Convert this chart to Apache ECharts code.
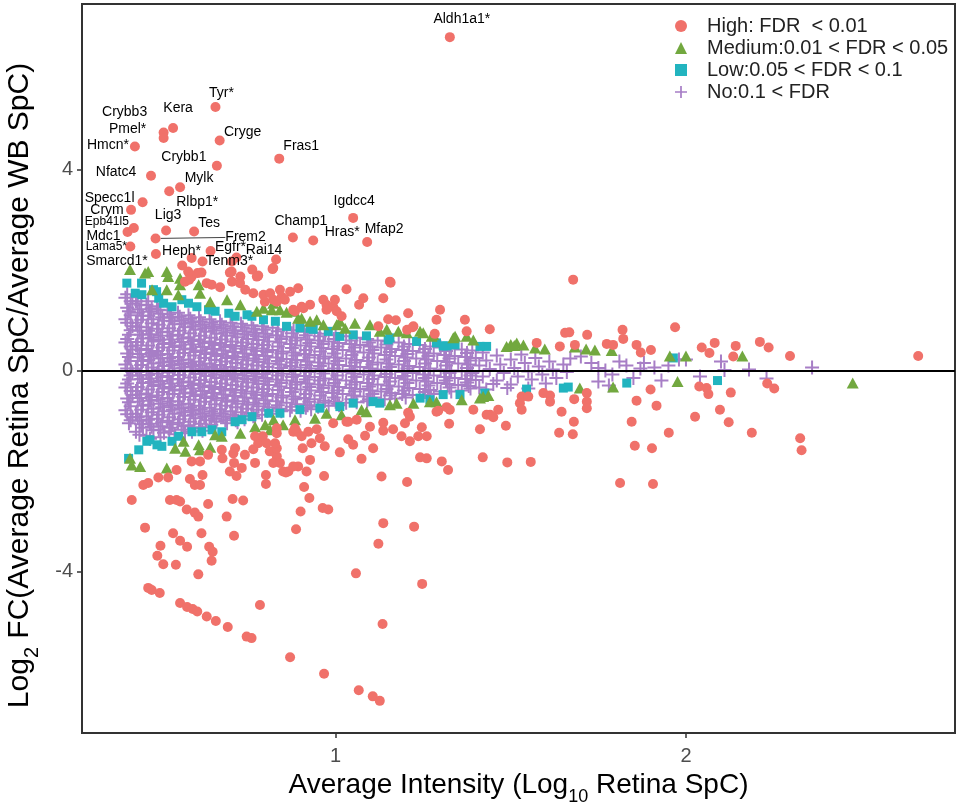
<!DOCTYPE html>
<html><head><meta charset="utf-8">
<script src="https://cdn.jsdelivr.net/npm/echarts@6/dist/echarts.min.js"></script>
<style>html,body{margin:0;padding:0;background:#fff}#c{width:956px;height:808px}</style>
</head><body><div id="c"></div>
<script>
// ---------- DATA ----------
const xTicks = [1, 2];
const yTicks = [-4, 0, 4];
const seriesNames = ['High: FDR  < 0.01', 'Medium:0.01 < FDR < 0.05', 'Low:0.05 < FDR < 0.1', 'No:0.1 < FDR'];

// labelled High points: [intensity, log2FC, gene]
const highLabeled = [
[1.326,6.64,'Aldh1a1*'],[0.657,5.25,'Tyr*'],[0.536,4.83,'Kera'],[0.509,4.74,'Crybb3'],[0.509,4.63,'Pmel*'],
[0.427,4.46,'Hmcn*'],[0.669,4.58,'Cryge'],[0.839,4.22,'Fras1'],[0.661,4.08,'Crybb1'],[0.473,3.88,'Nfatc4'],
[0.556,3.65,'Mylk'],[0.525,3.57,'Rlbp1*'],[0.449,3.35,'Specc1l'],[0.416,3.20,'Crym'],[1.050,3.04,'Igdcc4'],
[0.424,2.84,'Epb41l5'],[0.516,2.79,'Lig3'],[0.596,2.77,'Tes'],[0.406,2.76,'Mdc1'],[0.486,2.63,'Frem2'],
[0.878,2.65,'Champ1'],[0.936,2.59,'Hras*'],[1.090,2.56,'Mfap2'],[0.414,2.47,'Lama5*'],[0.643,2.38,'Heph*'],
[0.717,2.25,'Egfr*'],[0.830,2.21,'Rai14'],[0.620,2.17,'Tenm3*'],[0.487,2.32,'Smarcd1*']
];

const highPts = [
[0.562,2.09],[0.589,2.24],[0.617,1.95],[0.698,1.95],[0.762,2.01],[0.779,1.89],[1.155,1.77],[0.822,2.04],[0.579,1.97],[0.589,1.87],[0.570,1.77],[0.632,1.74],[0.646,1.71],[0.670,1.66],[0.703,1.97],[0.727,1.74],[0.775,1.87],[0.765,1.54],[0.798,1.37],[0.822,1.41],[0.841,1.61],[0.846,1.47],[0.870,1.57],[0.893,1.64],[0.879,1.21],[0.903,1.27],[0.927,1.31],[0.965,1.41],[0.974,1.31],[0.993,1.27],[1.003,1.18],[1.031,1.62],[1.079,1.44],[1.136,1.44],[1.157,1.75],[1.207,1.14],[1.222,0.88],[1.288,1.01],[1.298,1.21],[1.369,1.01],[1.374,0.78],[1.440,0.82],[0.832,1.37],[0.855,1.41],[0.884,1.18],[0.908,1.24],[0.998,1.41],[0.974,1.21],[1.017,1.08],[1.067,1.31],[1.150,1.02],[1.172,1.00],[1.122,0.88],[1.204,0.81],[1.220,0.86],[1.283,0.73],[0.820,2.02],[0.582,1.81],[0.606,1.94],[0.704,1.77],[0.728,1.87],[0.742,1.61],[0.794,1.51],[0.813,1.54],[0.704,2.17],
[1.678,1.81],[1.655,0.75],[1.667,0.76],[1.718,0.71],[1.574,0.55],[1.640,0.48],[1.683,0.51],[1.774,0.53],[1.792,0.51],[1.819,0.81],[1.821,0.63],[1.859,0.51],[1.871,0.36],[1.900,0.41],[1.969,0.86],[2.045,0.46],[2.067,0.35],[2.082,0.55],[2.142,0.49],[2.135,0.28],[2.211,0.57],[2.236,0.46],[2.297,0.29],[2.663,0.29],
[1.717,-0.45],[1.681,-0.57],[1.717,-0.62],[1.717,-0.75],[1.899,-0.38],[1.859,-0.60],[1.916,-0.70],[1.845,-1.02],[2.038,-0.32],[2.059,-0.35],[2.064,-0.47],[2.097,-0.78],[2.026,-0.92],[2.122,-1.03],[2.128,-0.44],[2.232,-0.26],[2.252,-0.36],[1.645,-0.82],[1.680,-1.02],[1.612,-0.50],[1.612,-0.62],[1.593,-0.45],[1.531,-0.52],[1.526,-0.65],[1.531,-0.78],[1.550,-0.52],[1.464,-0.78],[1.441,-0.88],[1.450,-0.93],[1.486,-1.10],[1.412,-1.17],[1.638,-1.24],[1.677,-1.27],[1.951,-1.24],[2.188,-1.24],[2.326,-1.35],[2.330,-1.59],[1.854,-1.50],[1.903,-1.55],[1.420,-1.73],[1.490,-1.83],[1.557,-1.82],[1.812,-2.24],[1.906,-2.26],
[1.207,-0.84],[1.293,-0.80],[1.317,-0.73],[1.326,-0.78],[1.393,-0.78],[1.324,-1.06],[1.303,-1.81],[1.321,-1.98],[1.241,-1.73],[1.260,-1.75],[1.246,-1.13],[1.260,-1.31],[1.236,-1.31],[1.212,-1.41],[1.188,-1.31],[1.198,-1.05],[1.164,-1.17],[1.136,-1.04],[1.136,-1.20],[1.098,-1.12],[1.084,-1.30],[1.107,-1.55],[1.074,-1.76],[1.050,-1.48],[1.036,-1.37],[1.060,-0.98],[1.012,-1.63],[0.993,-1.05],[0.969,-1.51],[0.955,-1.35],[0.946,-1.17],[0.931,-1.45],[0.927,-1.78],[0.917,-2.01],[0.906,-1.55],[0.903,-1.31],[0.889,-1.22],[0.922,-1.22],[0.893,-1.91],[0.865,-2.01],[0.850,-2.01],[0.967,-2.10],[0.910,-2.32],[0.925,-2.54],[0.900,-2.81],[0.887,-3.16],[0.963,-2.74],[0.979,-2.77],[1.131,-2.11],[1.204,-2.22],[1.136,-3.04],[1.224,-3.11],[1.122,-3.45],[1.058,-4.04],[1.247,-4.25],[1.134,-5.05],[0.784,-4.67],[0.870,-5.71],[0.967,-6.04],[1.066,-6.37],[1.106,-6.49],[1.126,-6.58],
[0.418,-2.58],[0.456,-3.13],[0.451,-2.28],[0.465,-2.24],[0.494,-2.13],[0.522,-2.13],[0.546,-1.98],[0.584,-2.16],[0.598,-2.28],[0.613,-2.28],[0.620,-2.08],[0.589,-1.81],[0.613,-1.81],[0.636,-1.68],[0.527,-2.58],[0.546,-2.58],[0.556,-2.61],[0.575,-2.77],[0.598,-2.83],[0.608,-2.91],[0.636,-2.66],[0.536,-3.24],[0.556,-3.39],[0.576,-3.51],[0.500,-3.49],[0.491,-3.69],[0.508,-3.86],[0.544,-3.87],[0.617,-3.24],[0.639,-3.51],[0.649,-3.61],[0.646,-3.79],[0.608,-4.06],[0.465,-4.33],[0.475,-4.37],[0.498,-4.43],[0.556,-4.63],[0.576,-4.71],[0.592,-4.75],[0.605,-4.80],[0.632,-4.90],[0.658,-4.99],[0.692,-5.11],[0.746,-5.30],[0.760,-5.33],[0.675,-1.58],[0.677,-1.75],[0.708,-1.65],[0.713,-1.55],[0.741,-1.68],[0.710,-1.84],[0.698,-2.01],[0.717,-2.10],[0.732,-1.94],[0.770,-1.84],[0.765,-1.57],[0.779,-1.45],[0.770,-1.31],[0.792,-1.31],[0.803,-1.45],[0.812,-1.61],[0.832,-1.71],[0.822,-1.84],[0.841,-1.84],[0.832,-1.55],[0.801,-2.08],[0.801,-2.26],[0.858,-2.03],[0.879,-1.91],[0.706,-2.56],[0.736,-2.59],[0.689,-2.91],[0.710,-3.29],[0.879,-1.22],[1.031,-1.02],[1.212,-0.92],[1.288,-0.82],[1.431,-0.88],[1.036,-1.02],[0.884,-1.15],[0.832,-1.15],[0.827,-1.45],[0.832,-1.25]
];

const mediumPts = [
[0.413,2.01],[0.456,1.94],[0.465,1.97],[0.518,1.97],[0.522,1.87],[0.476,1.61],[0.518,1.61],[0.556,1.71],[0.551,1.51],[0.609,1.71],[0.613,1.54],[0.642,1.37],[0.690,1.41],[0.728,1.31],[0.775,1.18],[0.794,1.24],[0.818,1.21],[0.556,1.84],[0.841,1.21],[0.860,1.16],[0.893,1.04],[1.012,0.98],[1.055,0.94],[1.098,0.91],[1.203,0.75],[1.241,0.78],[1.279,0.71],[1.336,0.65],[1.374,0.68],[1.488,0.48],[1.517,0.55],[0.822,1.34],[0.879,1.18],[0.903,1.04],[0.927,0.98],[0.946,1.01],[0.965,0.91],[1.003,0.91],[1.027,0.84],[1.126,0.78],[1.146,0.82],[1.179,0.78],[1.250,0.75],[1.274,0.68],[1.341,0.68],[1.393,0.61],[1.536,0.51],[1.569,0.45],[1.597,0.43],[1.683,0.47],[1.715,0.43],[1.740,0.41],[1.788,0.40],[1.954,0.29],[2.000,0.29],[2.161,0.29],[1.500,0.52],[1.510,0.50],
[1.697,-0.35],[1.792,-0.33],[1.976,-0.22],[2.476,-0.25],[1.421,-0.52],[1.436,-0.50],[0.413,-1.75],[0.418,-1.88],[0.442,-1.91],[0.518,-1.94],[0.542,-1.55],[0.566,-1.41],[0.571,-1.61],[0.609,-1.48],[0.613,-1.58],[0.642,-1.53],[0.656,-1.28],[0.675,-1.31],[0.728,-1.25],[0.770,-1.12],[0.799,-1.08],[0.813,-1.18],[0.823,-0.98],[0.850,-1.08],[0.884,-0.98],[0.941,-0.95],[0.974,-0.85],[1.017,-0.88],[1.074,-0.78],[1.088,-0.82],[1.155,-0.68],[1.174,-0.65],[1.222,-0.65],[1.269,-0.62],[1.288,-0.62],[1.360,-0.58],[1.412,-0.55]
];

const lowPts = [
[0.404,1.74],[0.428,1.54],[0.447,1.51],[0.480,1.61],[0.495,1.44],[0.509,1.34],[0.533,1.27],[0.561,1.41],[0.580,1.34],[0.604,1.27],[0.637,1.21],[0.656,1.18],[0.695,1.14],[0.713,1.08],[0.747,1.11],[0.761,1.08],[0.794,1.01],[0.828,0.98],[0.446,1.74],[0.489,1.57],[0.860,0.88],[0.927,0.84],[0.979,0.78],[1.050,0.71],[1.155,0.65],[1.231,0.58],[1.317,0.49],[1.431,0.48],[0.898,0.85],[0.936,0.82],[1.012,0.68],[1.088,0.69],[1.150,0.61],[1.288,0.55],[1.307,0.49],[1.341,0.51],[1.412,0.48],[1.964,0.25],
[1.831,-0.25],[2.090,-0.20],[1.650,-0.35],[1.664,-0.33],[1.545,-0.37],[1.426,-0.45],[0.438,-1.58],[0.461,-1.41],[0.490,-1.48],[0.504,-1.51],[0.533,-1.41],[0.552,-1.31],[0.590,-1.22],[0.618,-1.22],[0.647,-1.18],[0.675,-1.22],[0.713,-1.02],[0.733,-0.98],[0.761,-0.92],[0.809,-0.85],[0.409,-1.75],[0.470,-1.38],[0.841,-0.85],[0.898,-0.78],[0.955,-0.75],[1.012,-0.72],[1.126,-0.65],[1.269,-0.58],[1.050,-0.65],[1.107,-0.62],[1.241,-0.55],[1.307,-0.48],[1.355,-0.48]
];

const noPts = [
[0.40,1.45],[0.42,1.33],[0.41,1.18],[0.40,1.02],[0.42,0.88],[0.41,0.71],[0.40,0.56],[0.42,0.42],[0.41,0.27],[0.40,0.12],[0.42,-0.03],[0.41,-0.18],[0.40,-0.34],[0.42,-0.49],[0.41,-0.63],[0.40,-0.79],[0.42,-0.93],[0.41,-1.05],
[0.43,1.38],[0.44,1.22],[0.45,1.09],[0.43,0.95],[0.44,0.79],[0.45,0.64],[0.43,0.5],[0.44,0.33],[0.45,0.19],[0.43,0.04],[0.44,-0.1],[0.45,-0.25],[0.43,-0.41],[0.44,-0.55],[0.45,-0.7],[0.43,-0.86],[0.44,-1.0],[0.45,-1.14],[0.43,-1.22],
[0.46,1.31],[0.47,1.17],[0.48,1.02],[0.46,0.86],[0.47,0.72],[0.48,0.58],[0.46,0.43],[0.47,0.28],[0.48,0.14],[0.46,-0.02],[0.47,-0.16],[0.48,-0.31],[0.46,-0.46],[0.47,-0.6],[0.48,-0.76],[0.46,-0.91],[0.47,-1.06],[0.48,-1.19],[0.46,-1.3],
[0.49,1.28],[0.5,1.13],[0.51,0.99],[0.49,0.83],[0.5,0.69],[0.51,0.53],[0.49,0.39],[0.5,0.24],[0.51,0.09],[0.49,-0.06],[0.5,-0.21],[0.51,-0.36],[0.49,-0.5],[0.5,-0.66],[0.51,-0.81],[0.49,-0.96],[0.5,-1.11],[0.51,-1.24],
[0.52,1.2],[0.53,1.05],[0.54,0.92],[0.52,0.77],[0.53,0.62],[0.54,0.47],[0.52,0.33],[0.53,0.18],[0.54,0.04],[0.52,-0.11],[0.53,-0.26],[0.54,-0.4],[0.52,-0.55],[0.53,-0.7],[0.54,-0.86],[0.52,-1.0],[0.53,-1.14],[0.54,-1.27],
[0.55,1.15],[0.56,1.0],[0.57,0.86],[0.55,0.71],[0.56,0.57],[0.57,0.42],[0.55,0.27],[0.56,0.13],[0.57,-0.02],[0.55,-0.17],[0.56,-0.31],[0.57,-0.46],[0.55,-0.61],[0.56,-0.75],[0.57,-0.9],[0.55,-1.04],[0.56,-1.18],[0.57,-1.25],
[0.58,1.1],[0.59,0.96],[0.6,0.81],[0.58,0.66],[0.59,0.52],[0.6,0.37],[0.58,0.22],[0.59,0.08],[0.6,-0.07],[0.58,-0.22],[0.59,-0.36],[0.6,-0.51],[0.58,-0.66],[0.59,-0.8],[0.6,-0.95],[0.58,-1.09],[0.59,-1.22],
[0.61,1.06],[0.62,0.91],[0.63,0.77],[0.61,0.62],[0.62,0.47],[0.63,0.33],[0.61,0.18],[0.62,0.03],[0.63,-0.11],[0.61,-0.26],[0.62,-0.41],[0.63,-0.55],[0.61,-0.7],[0.62,-0.85],[0.63,-0.99],[0.61,-1.13],[0.62,-1.2],
[0.64,1.02],[0.65,0.87],[0.66,0.73],[0.64,0.58],[0.65,0.43],[0.66,0.29],[0.64,0.14],[0.65,-0.01],[0.66,-0.15],[0.64,-0.3],[0.65,-0.45],[0.66,-0.59],[0.64,-0.74],[0.65,-0.89],[0.66,-1.02],[0.64,-1.13],
[0.67,0.98],[0.68,0.84],[0.69,0.69],[0.67,0.55],[0.68,0.4],[0.69,0.25],[0.67,0.11],[0.68,-0.04],[0.69,-0.18],[0.67,-0.33],[0.68,-0.48],[0.69,-0.62],[0.67,-0.77],[0.68,-0.92],[0.69,-1.05],
[0.7,0.95],[0.71,0.8],[0.72,0.66],[0.7,0.51],[0.71,0.37],[0.72,0.22],[0.7,0.07],[0.71,-0.07],[0.72,-0.22],[0.7,-0.37],[0.71,-0.51],[0.72,-0.66],[0.7,-0.81],[0.71,-0.95],[0.72,-1.03],
[0.73,0.93],[0.74,0.78],[0.75,0.63],[0.73,0.49],[0.74,0.34],[0.75,0.2],[0.73,0.05],[0.74,-0.1],[0.75,-0.24],[0.73,-0.39],[0.74,-0.54],[0.75,-0.68],[0.73,-0.83],[0.74,-0.97],
[0.76,0.9],[0.77,0.75],[0.78,0.61],[0.76,0.46],[0.77,0.31],[0.78,0.17],[0.76,0.02],[0.77,-0.12],[0.78,-0.27],[0.76,-0.42],[0.77,-0.56],[0.78,-0.71],[0.76,-0.85],[0.77,-0.95],
[0.79,0.88],[0.8,0.73],[0.81,0.58],[0.79,0.44],[0.8,0.29],[0.81,0.14],[0.79,0.0],[0.8,-0.15],[0.81,-0.29],[0.79,-0.44],[0.8,-0.59],[0.81,-0.73],[0.79,-0.88],
[0.82,0.85],[0.83,0.7],[0.84,0.56],[0.82,0.41],[0.83,0.26],[0.84,0.12],[0.82,-0.03],[0.83,-0.18],[0.84,-0.32],[0.82,-0.47],[0.83,-0.61],[0.84,-0.76],[0.82,-0.86],
[0.85,0.82],[0.86,0.67],[0.87,0.53],[0.85,0.38],[0.86,0.23],[0.87,0.09],[0.85,-0.06],[0.86,-0.2],[0.87,-0.35],[0.85,-0.5],[0.86,-0.64],[0.87,-0.79],
[0.88,0.8],[0.89,0.65],[0.9,0.5],[0.88,0.36],[0.89,0.21],[0.9,0.06],[0.88,-0.08],[0.89,-0.23],[0.9,-0.38],[0.88,-0.52],[0.89,-0.67],[0.9,-0.8],
[0.91,0.77],[0.92,0.62],[0.93,0.48],[0.91,0.33],[0.92,0.18],[0.93,0.04],[0.91,-0.11],[0.92,-0.26],[0.93,-0.4],[0.91,-0.55],[0.92,-0.69],[0.93,-0.77],
[0.94,0.75],[0.95,0.6],[0.96,0.45],[0.94,0.31],[0.95,0.16],[0.96,0.01],[0.94,-0.13],[0.95,-0.28],[0.96,-0.43],[0.94,-0.57],[0.95,-0.72],
[0.97,0.73],[0.98,0.58],[0.99,0.43],[0.97,0.28],[0.98,0.14],[0.99,-0.01],[0.97,-0.16],[0.98,-0.3],[0.99,-0.45],[0.97,-0.6],[0.98,-0.7],
[1.0,0.7],[1.01,0.55],[1.02,0.41],[1.0,0.26],[1.01,0.11],[1.02,-0.03],[1.0,-0.18],[1.01,-0.33],[1.02,-0.47],[1.0,-0.62],[1.01,-0.69],
[1.03,0.68],[1.04,0.53],[1.05,0.38],[1.03,0.24],[1.04,0.09],[1.05,-0.06],[1.03,-0.2],[1.04,-0.35],[1.05,-0.5],[1.03,-0.64],
[1.06,0.65],[1.07,0.51],[1.08,0.36],[1.06,0.21],[1.07,0.07],[1.08,-0.08],[1.06,-0.23],[1.07,-0.37],[1.08,-0.52],[1.06,-0.63],
[1.09,0.63],[1.1,0.48],[1.11,0.34],[1.09,0.19],[1.1,0.04],[1.11,-0.1],[1.09,-0.25],[1.1,-0.4],[1.11,-0.54],[1.09,-0.61],
[1.12,0.6],[1.13,0.46],[1.14,0.31],[1.12,0.16],[1.13,0.02],[1.14,-0.13],[1.12,-0.28],[1.13,-0.42],[1.14,-0.57],
[1.15,0.58],[1.16,0.43],[1.17,0.29],[1.15,0.14],[1.16,-0.01],[1.17,-0.15],[1.15,-0.3],[1.16,-0.45],[1.17,-0.56],
[1.18,0.56],[1.19,0.41],[1.2,0.26],[1.18,0.12],[1.19,-0.03],[1.2,-0.18],[1.18,-0.32],[1.19,-0.47],[1.2,-0.54],
[1.21,0.53],[1.22,0.39],[1.23,0.24],[1.21,0.09],[1.22,-0.05],[1.23,-0.2],[1.21,-0.35],[1.22,-0.49],
[1.24,0.51],[1.25,0.36],[1.26,0.22],[1.24,0.07],[1.25,-0.08],[1.26,-0.22],[1.24,-0.37],[1.25,-0.49],
[1.27,0.48],[1.28,0.34],[1.29,0.19],[1.27,0.04],[1.28,-0.1],[1.29,-0.25],[1.27,-0.39],[1.28,-0.47],
[1.3,0.46],[1.31,0.31],[1.32,0.17],[1.3,0.02],[1.31,-0.13],[1.32,-0.27],[1.3,-0.42],
[1.33,0.44],[1.34,0.29],[1.35,0.14],[1.33,0.0],[1.34,-0.15],[1.35,-0.29],[1.33,-0.42],
[1.36,0.42],[1.37,0.27],[1.38,0.12],[1.36,-0.02],[1.37,-0.17],[1.38,-0.31],[1.36,-0.4],
[1.39,0.4],[1.4,0.25],[1.41,0.1],[1.39,-0.05],[1.4,-0.19],[1.41,-0.34],
[1.42,0.36],[1.43,0.2],[1.44,0.03],[1.42,-0.12],[1.45,-0.27],[1.43,-0.38],
[1.46,0.3],[1.47,0.12],[1.48,-0.05],[1.46,-0.2],[1.49,-0.35],[1.5,0.22],[1.51,0.05],[1.52,-0.12],[1.5,-0.28],[1.53,0.32],[1.54,0.15],[1.55,-0.02],[1.56,-0.18],[1.55,-0.36],[1.57,0.25],[1.58,0.08],[1.59,-0.08],[1.6,-0.26],[1.61,0.18],[1.62,0.02],[1.63,-0.15],[1.65,0.12],[1.66,-0.03],[1.67,0.24],[1.7,0.28],[1.73,0.15],[1.75,0.05],[1.77,0.0],[1.79,-0.08],[1.75,-0.22],[1.78,-0.3],[1.81,0.18],[1.83,0.1],[1.85,-0.15],[1.87,0.04],[1.88,0.15],[1.91,0.06],[1.93,-0.2],[1.95,0.1],[1.98,0.22],[2.0,0.22],[2.04,-0.12],[2.1,0.18],[2.11,0.01],[2.18,0.02],[2.23,-0.16],[2.36,0.06],
[0.405,1.52],[0.415,1.38],[0.405,1.25],[0.415,1.1],[0.405,0.95],[0.415,0.8],[0.405,0.63],[0.415,0.48],[0.405,0.34],[0.415,0.19],[0.405,0.04],[0.415,-0.1],[0.405,-0.26],[0.415,-0.41],[0.405,-0.56],[0.415,-0.71],[0.405,-0.87],[0.415,-0.99],
[0.435,1.46],[0.445,1.3],[0.435,1.15],[0.445,1.01],[0.435,0.87],[0.445,0.71],[0.435,0.57],[0.445,0.41],[0.435,0.26],[0.445,0.11],[0.435,-0.03],[0.445,-0.17],[0.435,-0.33],[0.445,-0.48],[0.435,-0.62],[0.445,-0.78],[0.435,-0.93],[0.445,-1.07],[0.44,-1.28],
[0.465,1.38],[0.475,1.24],[0.465,1.09],[0.475,0.94],[0.465,0.79],[0.475,0.65],[0.465,0.5],[0.475,0.35],[0.465,0.21],[0.475,0.06],[0.465,-0.09],[0.475,-0.23],[0.465,-0.38],[0.475,-0.53],[0.465,-0.68],[0.475,-0.83],[0.465,-0.98],[0.475,-1.12],[0.47,-1.36],
[0.495,1.21],[0.505,1.06],[0.495,0.91],[0.505,0.76],[0.495,0.61],[0.505,0.46],[0.495,0.31],[0.505,0.16],[0.495,0.02],[0.505,-0.13],[0.495,-0.28],[0.505,-0.43],[0.495,-0.58],[0.505,-0.73],[0.495,-0.88],[0.505,-1.03],[0.495,-1.18],[0.5,-1.33],
[0.525,1.12],[0.535,0.98],[0.525,0.84],[0.535,0.69],[0.525,0.55],[0.535,0.4],[0.525,0.25],[0.535,0.11],[0.525,-0.04],[0.535,-0.18],[0.525,-0.33],[0.535,-0.47],[0.525,-0.62],[0.535,-0.78],[0.525,-0.93],[0.535,-1.07],[0.525,-1.21],
[0.555,1.07],[0.565,0.93],[0.555,0.79],[0.565,0.64],[0.555,0.5],[0.565,0.35],[0.555,0.2],[0.565,0.06],[0.555,-0.09],[0.565,-0.24],[0.555,-0.38],[0.565,-0.53],[0.555,-0.68],[0.565,-0.83],[0.555,-0.97],[0.565,-1.11],
[0.585,1.03],[0.595,0.88],[0.585,0.74],[0.595,0.59],[0.585,0.44],[0.595,0.3],[0.585,0.15],[0.595,0.0],[0.585,-0.14],[0.595,-0.29],[0.585,-0.44],[0.595,-0.58],[0.585,-0.73],[0.595,-0.88],[0.585,-1.02],[0.595,-1.15],
[0.615,0.98],[0.625,0.84],[0.615,0.69],[0.625,0.55],[0.615,0.4],[0.625,0.25],[0.615,0.11],[0.625,-0.04],[0.615,-0.19],[0.625,-0.33],[0.615,-0.48],[0.625,-0.62],[0.615,-0.77],[0.625,-0.92],[0.615,-1.06],
[0.645,0.95],[0.655,0.8],[0.645,0.65],[0.655,0.51],[0.645,0.36],[0.655,0.21],[0.645,0.07],[0.655,-0.08],[0.645,-0.23],[0.655,-0.37],[0.645,-0.52],[0.655,-0.67],[0.645,-0.81],[0.655,-0.96],[0.645,-1.08],
[0.675,0.91],[0.685,0.76],[0.675,0.62],[0.685,0.47],[0.675,0.33],[0.685,0.18],[0.675,0.03],[0.685,-0.11],[0.675,-0.26],[0.685,-0.4],[0.675,-0.55],[0.685,-0.7],[0.675,-0.85],[0.685,-0.99],
[0.705,0.88],[0.715,0.73],[0.705,0.58],[0.715,0.44],[0.705,0.29],[0.715,0.15],[0.705,0.0],[0.715,-0.15],[0.705,-0.29],[0.715,-0.44],[0.705,-0.59],[0.715,-0.73],[0.705,-0.88],[0.715,-0.99],
[0.735,0.86],[0.745,0.71],[0.735,0.56],[0.745,0.42],[0.735,0.27],[0.745,0.12],[0.735,-0.02],[0.745,-0.17],[0.735,-0.32],[0.745,-0.46],[0.735,-0.61],[0.745,-0.76],[0.735,-0.9],
[0.765,0.83],[0.775,0.68],[0.765,0.53],[0.775,0.39],[0.765,0.24],[0.775,0.1],[0.765,-0.05],[0.775,-0.2],[0.765,-0.34],[0.775,-0.49],[0.765,-0.64],[0.775,-0.78],[0.765,-0.91],
[0.795,0.81],[0.805,0.66],[0.795,0.51],[0.805,0.37],[0.795,0.22],[0.805,0.07],[0.795,-0.07],[0.805,-0.22],[0.795,-0.37],[0.805,-0.51],[0.795,-0.66],[0.805,-0.8],
[0.835,0.78],[0.845,0.63],[0.835,0.48],[0.845,0.34],[0.835,0.19],[0.845,0.05],[0.835,-0.1],[0.845,-0.25],[0.835,-0.39],[0.845,-0.54],[0.835,-0.69],[0.845,-0.81],
[0.875,0.74],[0.885,0.6],[0.875,0.45],[0.885,0.3],[0.875,0.16],[0.885,0.01],[0.875,-0.13],[0.885,-0.28],[0.875,-0.43],[0.885,-0.57],[0.875,-0.72],
[0.915,0.7],[0.925,0.55],[0.915,0.41],[0.925,0.26],[0.915,0.11],[0.925,-0.03],[0.915,-0.18],[0.925,-0.33],[0.915,-0.47],[0.925,-0.62],[0.915,-0.74],
[0.955,0.68],[0.965,0.53],[0.955,0.38],[0.965,0.24],[0.955,0.09],[0.965,-0.06],[0.955,-0.2],[0.965,-0.35],[0.955,-0.5],[0.965,-0.64],
[0.995,0.63],[1.005,0.48],[0.995,0.34],[1.005,0.19],[0.995,0.04],[1.005,-0.1],[0.995,-0.25],[1.005,-0.4],[0.995,-0.54],[1.005,-0.66],
[1.045,0.6],[1.055,0.46],[1.045,0.31],[1.055,0.16],[1.045,0.02],[1.055,-0.13],[1.045,-0.28],[1.055,-0.42],[1.045,-0.57],
[1.095,0.56],[1.105,0.41],[1.095,0.26],[1.105,0.12],[1.095,-0.03],[1.105,-0.17],[1.095,-0.32],[1.105,-0.47],[1.095,-0.57],
[1.145,0.52],[1.155,0.37],[1.145,0.22],[1.155,0.07],[1.145,-0.07],[1.155,-0.22],[1.145,-0.37],[1.155,-0.5],
[1.195,0.48],[1.205,0.33],[1.195,0.19],[1.205,0.04],[1.195,-0.11],[1.205,-0.25],[1.195,-0.4],
[1.255,0.43],[1.265,0.29],[1.255,0.14],[1.265,-0.01],[1.255,-0.15],[1.265,-0.3],[1.255,-0.43],
[1.315,0.39],[1.325,0.24],[1.315,0.1],[1.325,-0.05],[1.315,-0.2],[1.325,-0.34],
[1.375,0.35],[1.385,0.2],[1.375,0.05],[1.385,-0.1],[1.375,-0.24],[1.385,-0.36]
];

// ---------- STYLE ----------
const FONT = '"Liberation Sans", Arial, Helvetica, sans-serif';
const COL = { high: '#F0716A', medium: '#72A83F', low: '#22B4BF', no: '#A77EC6' };
const CROSS = 'path://M6,0H8V6H14V8H8V14H6V8H0V6H6Z';
const labelOffsets = {
  'Aldh1a1*':[12,-18],'Tyr*':[6,-14],'Kera':[5,-20],'Crybb3':[-39,-20],'Pmel*':[-36,-9],
  'Hmcn*':[-27,-1],'Cryge':[23,-8],'Fras1':[22,-12],'Crybb1':[-33,-9],'Nfatc4':[-35,-4],
  'Mylk':[19,-9],'Rlbp1*':[28,11],'Specc1l':[-33,-4],'Crym':[-24,0],'Igdcc4':[1,-17],
  'Epb41l5':[-27,-6],'Lig3':[2,-15],'Tes':[15,-8],'Mdc1':[-24,4],'Frem2':[90,-1],
  'Champ1':[8,-16],'Hras*':[29,-8],'Mfap2':[17,-13],'Lama5*':[-24,0],'Heph*':[-29,0],
  'Egfr*':[-6,-10],'Rai14':[-12,-9],'Tenm3*':[27,0],'Smarcd1*':[-39,7]
};
const smallLabels = { 'Epb41l5': true, 'Lama5*': true };

const highData = highPts.map(p => ({ value: p })).concat(highLabeled.map(r => {
  const n = r[2];
  const item = {
    value: [r[0], r[1]], name: n,
    label: { show: true, formatter: n, position: 'inside', offset: labelOffsets[n],
      fontSize: smallLabels[n] ? 12 : 14, color: '#000', fontFamily: FONT,
      textBorderWidth: 0, align: 'center', verticalAlign: 'middle' }
  };
  if (n === 'Frem2') item.labelLine = { show: true, lineStyle: { color: '#444', width: 1 } };
  return item;
}));

const chart = echarts.init(document.getElementById('c'), null, { renderer: 'canvas', width: 956, height: 808 });
const axisName = { fontFamily: FONT, color: '#000' };
const option = {
  animation: false,
  backgroundColor: '#fff',
  grid: { left: 82, top: 4, right: 1, bottom: 75, show: true, borderColor: '#333', borderWidth: 2,
    backgroundColor: 'transparent', containLabel: false, outerBoundsMode: 'none' },
  xAxis: {
    type: 'value', min: 0.276, max: 2.768,
    axisLine: { show: true, onZero: false, lineStyle: { color: '#333', width: 2 } },
    splitLine: { show: false },
    axisTick: { show: true, length: 5, customValues: xTicks, lineStyle: { color: '#333', width: 1.5 } },
    axisLabel: { customValues: xTicks, fontSize: 20, color: '#4d4d4d', fontFamily: FONT, margin: 13 },
    name: '{t|Average Intensity (Log}{s|10}{t| Retina SpC)}',
    nameLocation: 'middle', nameGap: 31,
    nameTextStyle: { rich: { t: Object.assign({ fontSize: 28 }, axisName), s: Object.assign({ fontSize: 18, padding: [24, 0, 0, 0] }, axisName) } }
  },
  yAxis: {
    type: 'value', min: -7.22, max: 7.30,
    axisLine: { show: true, onZero: false, lineStyle: { color: '#333', width: 2 } },
    splitLine: { show: false },
    axisTick: { show: true, length: 5, customValues: yTicks, lineStyle: { color: '#333', width: 1.5 } },
    axisLabel: { customValues: yTicks, fontSize: 20, color: '#4d4d4d', fontFamily: FONT, margin: 9 },
    name: '{t|Log}{s|2}{t| FC(Average Retina SpC/Average WB SpC)}',
    nameLocation: 'middle', nameGap: 40,
    nameTextStyle: { padding: [0, 34, 0, 0], rich: { t: Object.assign({ fontSize: 30 }, axisName), s: Object.assign({ fontSize: 20, padding: [24, 0, 0, 0] }, axisName) } }
  },
  legend: {
    orient: 'vertical', left: 670, top: 11, itemWidth: 12, itemHeight: 12, itemGap: 2,
    selectedMode: false,
    textStyle: { fontSize: 20, color: '#222', fontFamily: FONT, padding: [0, 0, 0, 15] },
    data: seriesNames
  },
  series: [
    { name: seriesNames[3], type: 'scatter', data: noPts, symbol: CROSS, symbolSize: 14, itemStyle: { color: COL.no, opacity: 1 }, z: 2 },
    { name: seriesNames[2], type: 'scatter', data: lowPts, symbol: 'rect', symbolSize: 9, itemStyle: { color: COL.low, opacity: 1 }, z: 3 },
    { name: seriesNames[1], type: 'scatter', data: mediumPts, symbol: 'triangle', symbolSize: [12, 11], itemStyle: { color: COL.medium, opacity: 1 }, z: 4 },
    { name: seriesNames[0], type: 'scatter', data: highData, symbol: 'circle', symbolSize: 10, itemStyle: { color: COL.high, opacity: 1 }, z: 5,
      labelLine: { show: false },
      markLine: { silent: true, symbol: 'none', animation: false, label: { show: false },
        lineStyle: { color: '#000', width: 2, type: 'solid' }, data: [{ yAxis: 0 }] } }
  ]
};
chart.setOption(option);
</script>
</body></html>
